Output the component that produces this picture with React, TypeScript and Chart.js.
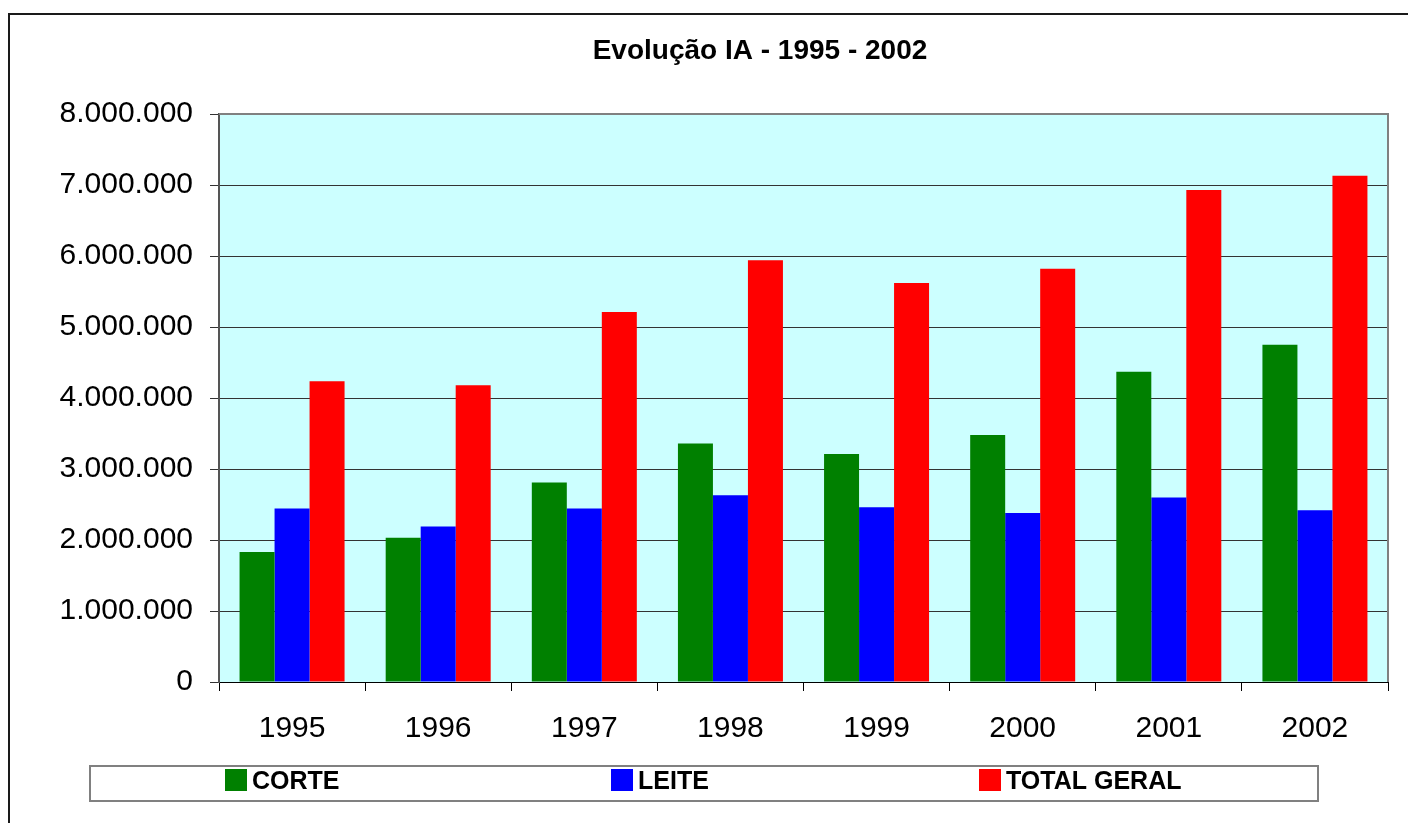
import React, { useEffect, useRef } from 'react';
import { Chart, registerables } from 'chart.js';

Chart.register(...registerables);

const chartTitle = 'Evolução IA - 1995 - 2002';
const years = ['1995', '1996', '1997', '1998', '1999', '2000', '2001', '2002'];
const corte = [1830000, 2030000, 2810000, 3360000, 3210000, 3480000, 4370000, 4750000];
const leite = [2445000, 2190000, 2445000, 2630000, 2460000, 2380000, 2600000, 2420000];
const totalGeral = [4235000, 4180000, 5210000, 5940000, 5620000, 5820000, 6930000, 7130000];
const seriesLabels = ['CORTE', 'LEITE', 'TOTAL GERAL'];
const seriesColors = ['#008000', '#0000FF', '#FF0000'];
const yMin = 0;
const yMax = 8000000;
const yStep = 1000000;

const FONT = '"Liberation Sans", Arial, Helvetica, sans-serif';

const formatThousands = (v: number) =>
  String(Math.round(v)).replace(/\B(?=(\d{3})+(?!\d))/g, '.');

const decorPlugin = {
  id: 'decor',
  beforeDraw(chart: any) {
    const { ctx, chartArea: a, width, height } = chart;
    ctx.save();
    ctx.fillStyle = '#ffffff';
    ctx.fillRect(0, 0, width, height);
    ctx.fillStyle = '#CCFFFF';
    ctx.fillRect(a.left, a.top, a.right - a.left, a.bottom - a.top);
    // outer frame
    ctx.strokeStyle = '#1a1a1a';
    ctx.lineWidth = 2;
    ctx.beginPath();
    ctx.moveTo(9, height + 10);
    ctx.lineTo(9, 14);
    ctx.lineTo(width + 10, 14);
    ctx.stroke();
    // title
    ctx.fillStyle = '#000';
    ctx.font = `bold 28px ${FONT}`;
    ctx.textAlign = 'center';
    ctx.textBaseline = 'middle';
    ctx.fillText(chartTitle, 760, 51);
    ctx.restore();
  },
  afterDraw(chart: any) {
    const { ctx, chartArea: a } = chart;
    ctx.save();
    // plot area border (top, right)
    ctx.strokeStyle = '#808080';
    ctx.lineWidth = 2;
    ctx.beginPath();
    ctx.moveTo(a.left, a.top);
    ctx.lineTo(a.right, a.top);
    ctx.lineTo(a.right, a.bottom);
    ctx.stroke();
    // legend box
    ctx.strokeRect(90, 766, 1228, 35);
    const xs = [225, 611, 979];
    chart.data.datasets.forEach((ds: any, i: number) => {
      ctx.fillStyle = ds.backgroundColor;
      ctx.fillRect(xs[i], 769, 22, 22);
      ctx.fillStyle = '#000';
      ctx.font = `bold 25px ${FONT}`;
      ctx.textAlign = 'left';
      ctx.textBaseline = 'middle';
      ctx.fillText(ds.label, xs[i] + 27, 782);
    });
    ctx.restore();
  },
};

export default function App() {
  const ref = useRef<HTMLCanvasElement | null>(null);
  useEffect(() => {
    if (!ref.current) return;
    const series = [corte, leite, totalGeral];
    const chart = new Chart(ref.current, {
      type: 'bar',
      data: {
        labels: years,
        datasets: series.map((d, i) => ({
          label: seriesLabels[i],
          data: d,
          backgroundColor: seriesColors[i],
          borderWidth: 0,
          categoryPercentage: 0.7186,
          barPercentage: 1.0,
        })),
      },
      options: {
        responsive: false,
        animation: false,
        devicePixelRatio: 1,
        layout: { padding: { left: 0, top: 114, right: 20, bottom: 0 } },
        plugins: {
          legend: { display: false },
          title: { display: false },
          tooltip: { enabled: false },
        },
        scales: {
          x: {
            grid: {
              display: true,
              drawOnChartArea: false,
              drawTicks: true,
              tickLength: 9,
              color: '#000',
              offset: true,
            },
            border: { display: true, color: '#000', width: 1 },
            ticks: {
              color: '#000',
              font: { size: 30, family: FONT },
              padding: 20,
              maxRotation: 0,
            },
            afterFit(scale: any) {
              scale.height = 141;
            },
          },
          y: {
            min: yMin,
            max: yMax,
            grid: {
              color: '#333333',
              lineWidth: 1,
              tickLength: 9,
              drawTicks: true,
            },
            border: { display: true, color: '#555555', width: 2 },
            ticks: {
              stepSize: yStep,
              color: '#000',
              font: { size: 30, family: FONT },
              padding: 17,
              callback: (v: any) => formatThousands(Number(v)),
            },
            afterFit(scale: any) {
              scale.width = 219;
            },
          },
        },
      },
      plugins: [decorPlugin],
    });
    return () => chart.destroy();
  }, []);
  return (
    <div style={{ position: 'fixed', left: 0, top: 0, width: 1408, height: 823, background: '#fff' }}>
      <canvas ref={ref} width={1408} height={823} style={{ display: 'block' }} />
    </div>
  );
}
